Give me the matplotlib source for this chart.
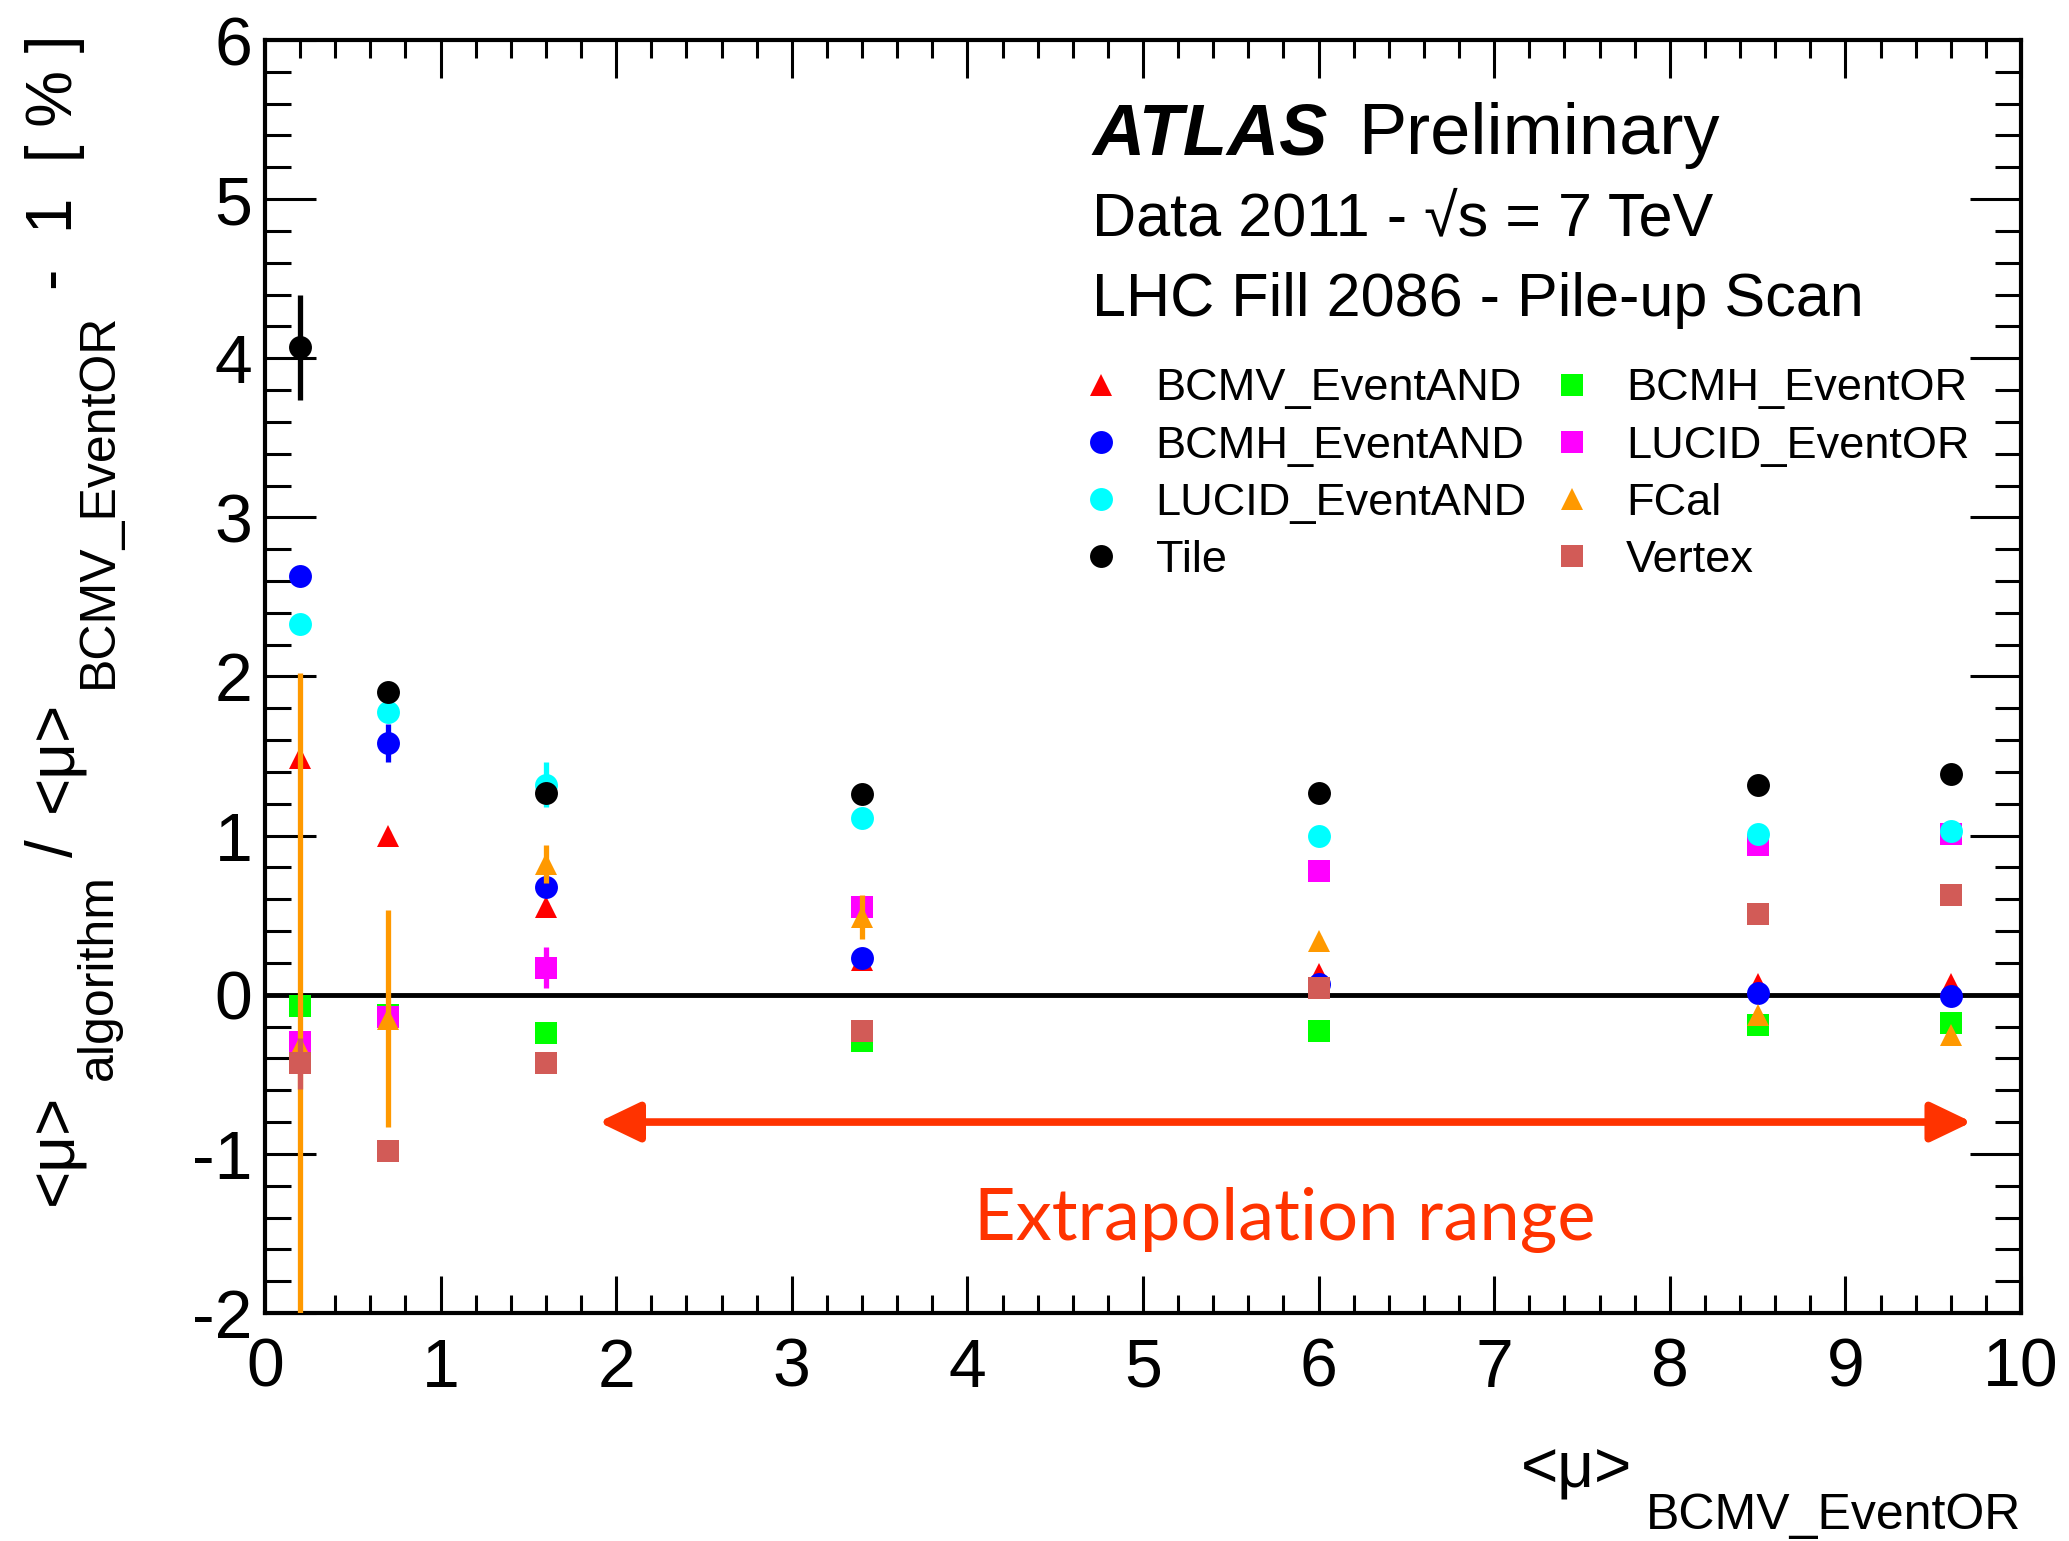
import matplotlib
matplotlib.use('Agg')
import matplotlib.pyplot as plt
import matplotlib.transforms as mtransforms
from matplotlib.patches import FancyArrowPatch
from matplotlib.lines import Line2D
from matplotlib.ticker import MultipleLocator

plt.rcParams['font.family'] = ['Liberation Sans', 'DejaVu Sans']
plt.rcParams['axes.unicode_minus'] = False

# <mu>_BCMV_EventOR scan points
mu_points = [0.2, 0.7, 1.6, 3.4, 6.0, 8.5, 9.6]

# relative deviation [%] per algorithm
bcmv_and = [1.49, 1.00, 0.55, 0.22, 0.13, 0.07, 0.07]
bcmv_and_err = [0.03, 0.03, 0.03, 0.02, 0.02, 0.02, 0.02]
bcmh_and = [2.63, 1.58, 0.68, 0.23, 0.07, 0.01, -0.01]
bcmh_and_err = [0.04, 0.12, 0.04, 0.03, 0.02, 0.02, 0.02]
lucid_and = [2.33, 1.78, 1.32, 1.11, 1.00, 1.01, 1.03]
lucid_and_err = [0.04, 0.04, 0.14, 0.03, 0.02, 0.02, 0.02]
tile = [4.07, 1.90, 1.27, 1.26, 1.27, 1.32, 1.39]
tile_err = [0.33, 0.04, 0.04, 0.03, 0.02, 0.02, 0.02]
bcmh_or = [-0.07, -0.13, -0.24, -0.29, -0.23, -0.19, -0.18]
bcmh_or_err = [0.03, 0.03, 0.03, 0.02, 0.02, 0.02, 0.02]
lucid_or = [-0.30, -0.14, 0.17, 0.55, 0.78, 0.94, 1.01]
lucid_or_err = [0.04, 0.04, 0.13, 0.03, 0.02, 0.02, 0.02]
fcal = [-0.33, -0.15, 0.82, 0.49, 0.34, -0.13, -0.25]
fcal_err = [2.35, 0.68, 0.12, 0.14, 0.03, 0.03, 0.03]
vertex = [-0.43, -0.98, -0.43, -0.23, 0.04, 0.51, 0.63]
vertex_err = [0.16, 0.04, 0.03, 0.03, 0.02, 0.02, 0.02]

# (label, values, errors, marker, color, z-order)
series = [
    ('BCMH_EventOR', bcmh_or, bcmh_or_err, 's', '#00ff00', 3),
    ('LUCID_EventOR', lucid_or, lucid_or_err, 's', '#ff00ff', 4),
    ('BCMV_EventAND', bcmv_and, bcmv_and_err, '^', '#ff0000', 5),
    ('BCMH_EventAND', bcmh_and, bcmh_and_err, 'o', '#0000ff', 6),
    ('FCal', fcal, fcal_err, '^', '#ff9900', 7),
    ('Vertex', vertex, vertex_err, 's', '#d25b57', 8),
    ('LUCID_EventAND', lucid_and, lucid_and_err, 'o', '#00ffff', 9),
    ('Tile', tile, tile_err, 'o', '#000000', 10),
]
legend_order = ['BCMV_EventAND', 'BCMH_EventAND', 'LUCID_EventAND', 'Tile',
                'BCMH_EventOR', 'LUCID_EventOR', 'FCal', 'Vertex']

extrap_range = (1.9, 9.72)
extrap_y = -0.8
extrap_label = 'Extrapolation range'
extrap_label_pos = (5.81, -1.54)
arrow_color = '#ff3300'

W, H = 2069, 1541
fig = plt.figure(figsize=(W / 100, H / 100), dpi=100)
ax = fig.add_axes([265 / W, 1 - 1313 / H, 1756 / W, 1273 / H])

ax.axhline(0, color='black', lw=3.5, zorder=2)

handles = {}
for label, vals, errs, marker, color, z in series:
    ms = 16.5 if marker == 'o' else 16
    ax.errorbar(mu_points, vals, yerr=errs, fmt=marker, color=color, ms=ms,
                mew=0, elinewidth=3.8, capsize=0, zorder=z, clip_on=True)
    handles[label] = Line2D([], [], ls='none', marker=marker, color=color,
                            ms=ms, mew=0)

ax.set_xlim(0, 10)
ax.set_ylim(-2, 6)
ax.xaxis.set_major_locator(MultipleLocator(1))
ax.xaxis.set_minor_locator(MultipleLocator(0.2))
ax.yaxis.set_major_locator(MultipleLocator(1))
ax.yaxis.set_minor_locator(MultipleLocator(0.2))
ax.tick_params(which='both', direction='in', top=True, right=True, width=2.2,
               labelsize=49)
ax.tick_params(axis='x', which='major', length=27, pad=17)
ax.tick_params(axis='x', which='minor', length=13)
ax.tick_params(axis='y', which='major', length=37, pad=9)
ax.tick_params(axis='y', which='minor', length=19)
for sp in ax.spines.values():
    sp.set_linewidth(3)

# extrapolation arrow and label
arrow = FancyArrowPatch((extrap_range[0], extrap_y), (extrap_range[1], extrap_y),
                        arrowstyle='<|-|>,head_length=25,head_width=12',
                        mutation_scale=1, lw=5.5, color=arrow_color,
                        shrinkA=0, shrinkB=0, zorder=11)
ax.add_patch(arrow)
ax.text(extrap_label_pos[0], extrap_label_pos[1], extrap_label, color=arrow_color,
        fontsize=52, family='Lato', ha='center', va='baseline')

# ATLAS labels
ax.text(0.471, 0.9104, 'ATLAS', transform=ax.transAxes, fontsize=52,
        weight='bold', style='italic', va='baseline')
ax.text(0.6224, 0.9104, 'Preliminary', transform=ax.transAxes, fontsize=52,
        va='baseline')
ax.text(0.471, 0.8468, 'Data 2011 - \u221as = 7 TeV',
        transform=ax.transAxes, fontsize=44, va='baseline')
ax.text(0.471, 0.7832, 'LHC Fill 2086 - Pile-up Scan', transform=ax.transAxes,
        fontsize=44, va='baseline')

ax.legend([handles[k] for k in legend_order], legend_order, ncol=2,
          loc='upper left', bbox_to_anchor=(0.466, 0.742), frameon=False,
          fontsize=32.5, handlelength=0.8, handletextpad=0.8, columnspacing=0.6,
          labelspacing=0.36, borderpad=0, borderaxespad=0)

# axis titles, pieced together ROOT style (pixel positions)
px = mtransforms.IdentityTransform()
fig.text(1521, H - 1487, '<\u03bc>', transform=px, fontsize=46,
         ha='left', va='baseline')
fig.text(2021, H - 1529, 'BCMV_EventOR', transform=px, fontsize=36,
         ha='right', va='baseline')

ylabel_pieces = [
    ('<\u03bc>', 46, 1205, 72),
    ('algorithm', 36, 1080, 112),
    ('/', 46, 857, 72),
    ('<\u03bc>', 46, 812, 72),
    ('BCMV_EventOR', 36, 688, 112),
    ('-  1  [ % ]', 46, 290, 72),
]
for s, size, ystart, xbase in ylabel_pieces:
    fig.text(xbase, H - ystart, s, transform=px, fontsize=size, rotation=90,
             rotation_mode='anchor', ha='left', va='baseline')

fig.savefig('out.png', dpi=100)
